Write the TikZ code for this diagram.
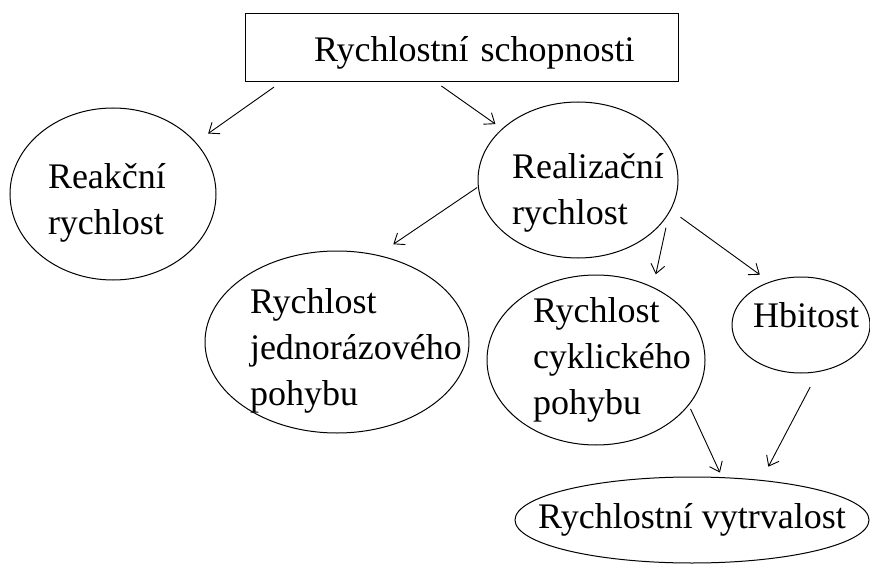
\documentclass[tikz,border=0pt]{standalone}
\usepackage{fontspec}
\setmainfont{Liberation Serif}
\usetikzlibrary{shapes.geometric,arrows.meta}
\tikzset{>={Straight Barb[length=9pt,width=14pt]}}
\tikzset{oval/.style={draw, ellipse, line width=1pt, inner sep=-30pt, align=left}}
\tikzset{arr/.style={->, line width=0.9pt}}

\begin{document}
\begin{tikzpicture}[x=1pt,y=-1pt,font=\fontsize{36}{46}\selectfont]
\useasboundingbox (0,0) rectangle (870,564);

\node[draw, line width=1pt, minimum width=433pt, minimum height=68pt, text height=36pt, text depth=8pt, align=left, text width=295pt] (schop) at (461.5,48) {\mbox{Rychlostní schopnosti}};

\node[oval, minimum width=206pt, minimum height=172pt, text width=130pt] (reak) at (113,194) {\rule{0pt}{42pt}Reakční\\rychlost};
\node[oval, minimum width=200pt, minimum height=156pt, text width=132pt] (real) at (578,180) {\rule{0pt}{50pt}Realizační\\rychlost};
\node[oval, minimum width=264pt, minimum height=182pt, text width=174pt] (jedn) at (337,342) {\rule{0pt}{42pt}Rychlost\\jednorázového\\pohybu};
\node[oval, minimum width=218pt, minimum height=170pt, text width=126pt] (cyk) at (596,360) {Rychlost\\cyklického\\pohybu};
\node[oval, minimum width=138pt, minimum height=96pt, text height=24pt, text depth=20pt, text width=96pt] (hbit) at (801,325) {Hbitost};
\node[oval, minimum width=354pt, minimum height=86pt] (vytr) at (692,520) {Rychlostní vytrvalost};

\draw[arr, shorten <=8pt, shorten >=15pt] ([xshift=36pt]schop.south west) -- (reak.32);
\draw[arr, shorten <=6pt, shorten >=8pt] ([xshift=-25pt]schop.south) -- (real.146);
\draw[arr, shorten <=1pt, shorten >=19pt] (real.184) -- (jedn.65);
\draw[arr, shorten <=15pt, shorten >=13pt] (real.340) -- (cyk.52);
\draw[arr, shorten <=12pt, shorten >=12pt] (real.342) -- (hbit.126);
\draw[arr, shorten <=4pt, shorten >=5pt] (cyk.334) -- (vytr.55);
\draw[arr, shorten <=17pt, shorten >=15pt] (hbit.290) -- (vytr.30);

\end{tikzpicture}
\end{document}
